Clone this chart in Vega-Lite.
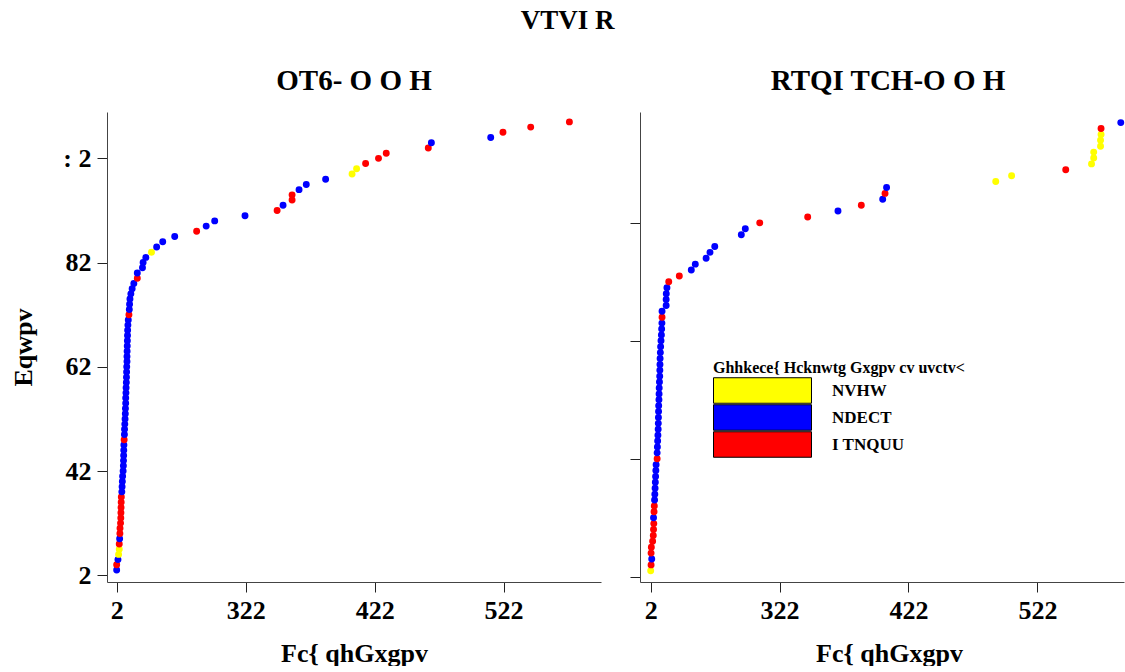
{
  "$schema": "https://vega.github.io/schema/vega-lite/v6.json",
  "background": "white",
  "padding": {"left": 10, "top": 7, "right": 0, "bottom": 0},
  "title": {
    "text": "VTVI R",
    "font": "Liberation Serif",
    "fontSize": 27,
    "fontWeight": "bold",
    "color": "black",
    "anchor": "middle",
    "offset": 32
  },
  "datasets": {
    "left_panel": [
      {"day": 0, "count": 1, "grp": "NDECT"},
      {"day": 0, "count": 2, "grp": "I TNQUU"},
      {"day": 1, "count": 3, "grp": "NDECT"},
      {"day": 1.5, "count": 4, "grp": "NVHW"},
      {"day": 2, "count": 5, "grp": "NVHW"},
      {"day": 2, "count": 6, "grp": "I TNQUU"},
      {"day": 2.3, "count": 7, "grp": "NDECT"},
      {"day": 2.5, "count": 8, "grp": "I TNQUU"},
      {"day": 2.6, "count": 9, "grp": "I TNQUU"},
      {"day": 3, "count": 10, "grp": "I TNQUU"},
      {"day": 3.2, "count": 11, "grp": "I TNQUU"},
      {"day": 3.3, "count": 12, "grp": "I TNQUU"},
      {"day": 3.4, "count": 13, "grp": "I TNQUU"},
      {"day": 3.5, "count": 14, "grp": "I TNQUU"},
      {"day": 3.6, "count": 15, "grp": "I TNQUU"},
      {"day": 4, "count": 16, "grp": "NDECT"},
      {"day": 4.2, "count": 17, "grp": "NDECT"},
      {"day": 4.4, "count": 18, "grp": "NDECT"},
      {"day": 4.6, "count": 19, "grp": "NDECT"},
      {"day": 5, "count": 20, "grp": "NDECT"},
      {"day": 5.2, "count": 21, "grp": "NDECT"},
      {"day": 5.3, "count": 22, "grp": "NDECT"},
      {"day": 5.4, "count": 23, "grp": "NDECT"},
      {"day": 5.5, "count": 24, "grp": "NDECT"},
      {"day": 5.6, "count": 25, "grp": "NDECT"},
      {"day": 5.8, "count": 26, "grp": "I TNQUU"},
      {"day": 6, "count": 27, "grp": "NDECT"},
      {"day": 6.1, "count": 28, "grp": "NDECT"},
      {"day": 6.3, "count": 29, "grp": "NDECT"},
      {"day": 6.5, "count": 30, "grp": "NDECT"},
      {"day": 6.7, "count": 31, "grp": "NDECT"},
      {"day": 6.8, "count": 32, "grp": "NDECT"},
      {"day": 7, "count": 33, "grp": "NDECT"},
      {"day": 7, "count": 34, "grp": "NDECT"},
      {"day": 7.2, "count": 35, "grp": "NDECT"},
      {"day": 7.3, "count": 36, "grp": "NDECT"},
      {"day": 7.5, "count": 37, "grp": "NDECT"},
      {"day": 7.6, "count": 38, "grp": "NDECT"},
      {"day": 7.7, "count": 39, "grp": "NDECT"},
      {"day": 7.8, "count": 40, "grp": "NDECT"},
      {"day": 8, "count": 41, "grp": "NDECT"},
      {"day": 8, "count": 42, "grp": "NDECT"},
      {"day": 8.1, "count": 43, "grp": "NDECT"},
      {"day": 8.2, "count": 44, "grp": "NDECT"},
      {"day": 8.3, "count": 45, "grp": "NDECT"},
      {"day": 8.4, "count": 46, "grp": "NDECT"},
      {"day": 8.5, "count": 47, "grp": "NDECT"},
      {"day": 8.7, "count": 48, "grp": "NDECT"},
      {"day": 9, "count": 49, "grp": "NDECT"},
      {"day": 9.5, "count": 50, "grp": "I TNQUU"},
      {"day": 9.8, "count": 51, "grp": "NDECT"},
      {"day": 10, "count": 52, "grp": "NDECT"},
      {"day": 10.3, "count": 53, "grp": "NDECT"},
      {"day": 11, "count": 54, "grp": "NDECT"},
      {"day": 12, "count": 55, "grp": "NDECT"},
      {"day": 13.3, "count": 56, "grp": "NDECT"},
      {"day": 16, "count": 57, "grp": "I TNQUU"},
      {"day": 16, "count": 58, "grp": "NDECT"},
      {"day": 20, "count": 59, "grp": "NDECT"},
      {"day": 20.5, "count": 60, "grp": "NDECT"},
      {"day": 22.6, "count": 61, "grp": "NDECT"},
      {"day": 27, "count": 62, "grp": "NVHW"},
      {"day": 31, "count": 63, "grp": "NDECT"},
      {"day": 35.7, "count": 64, "grp": "NDECT"},
      {"day": 45, "count": 65, "grp": "NDECT"},
      {"day": 62, "count": 66, "grp": "I TNQUU"},
      {"day": 69.4, "count": 67, "grp": "NDECT"},
      {"day": 76, "count": 68, "grp": "NDECT"},
      {"day": 99.5, "count": 69, "grp": "NDECT"},
      {"day": 124.4, "count": 70, "grp": "I TNQUU"},
      {"day": 129, "count": 71, "grp": "NDECT"},
      {"day": 136, "count": 72, "grp": "I TNQUU"},
      {"day": 136, "count": 73, "grp": "I TNQUU"},
      {"day": 141.4, "count": 74, "grp": "NDECT"},
      {"day": 147, "count": 75, "grp": "NDECT"},
      {"day": 162, "count": 76, "grp": "NDECT"},
      {"day": 182.5, "count": 77, "grp": "NVHW"},
      {"day": 186, "count": 78, "grp": "NVHW"},
      {"day": 193, "count": 79, "grp": "I TNQUU"},
      {"day": 203, "count": 80, "grp": "I TNQUU"},
      {"day": 209, "count": 81, "grp": "I TNQUU"},
      {"day": 241.6, "count": 82, "grp": "I TNQUU"},
      {"day": 244, "count": 83, "grp": "NDECT"},
      {"day": 290, "count": 84, "grp": "NDECT"},
      {"day": 299.5, "count": 85, "grp": "I TNQUU"},
      {"day": 321, "count": 86, "grp": "I TNQUU"},
      {"day": 351, "count": 87, "grp": "I TNQUU"}
    ],
    "right_panel": [
      {"day": 0, "count": 1, "grp": "NVHW"},
      {"day": 0.3, "count": 2, "grp": "I TNQUU"},
      {"day": 0.8, "count": 3, "grp": "NDECT"},
      {"day": 0.3, "count": 4, "grp": "I TNQUU"},
      {"day": 0.5, "count": 5, "grp": "I TNQUU"},
      {"day": 1.5, "count": 6, "grp": "I TNQUU"},
      {"day": 2, "count": 7, "grp": "I TNQUU"},
      {"day": 2.2, "count": 8, "grp": "I TNQUU"},
      {"day": 2.4, "count": 9, "grp": "I TNQUU"},
      {"day": 2.2, "count": 10, "grp": "NDECT"},
      {"day": 2.6, "count": 11, "grp": "I TNQUU"},
      {"day": 2.8, "count": 12, "grp": "I TNQUU"},
      {"day": 3, "count": 13, "grp": "NDECT"},
      {"day": 3.2, "count": 14, "grp": "NDECT"},
      {"day": 3.4, "count": 15, "grp": "NDECT"},
      {"day": 3.6, "count": 16, "grp": "NDECT"},
      {"day": 3.8, "count": 17, "grp": "NDECT"},
      {"day": 4, "count": 18, "grp": "NDECT"},
      {"day": 4.2, "count": 19, "grp": "NDECT"},
      {"day": 5, "count": 20, "grp": "I TNQUU"},
      {"day": 5, "count": 21, "grp": "NDECT"},
      {"day": 5.2, "count": 22, "grp": "NDECT"},
      {"day": 5.4, "count": 23, "grp": "NDECT"},
      {"day": 5.6, "count": 24, "grp": "NDECT"},
      {"day": 5.8, "count": 25, "grp": "NDECT"},
      {"day": 5.9, "count": 26, "grp": "NDECT"},
      {"day": 6, "count": 27, "grp": "NDECT"},
      {"day": 6.1, "count": 28, "grp": "NDECT"},
      {"day": 6.2, "count": 29, "grp": "NDECT"},
      {"day": 6.4, "count": 30, "grp": "NDECT"},
      {"day": 6.5, "count": 31, "grp": "NDECT"},
      {"day": 6.6, "count": 32, "grp": "NDECT"},
      {"day": 6.8, "count": 33, "grp": "NDECT"},
      {"day": 7, "count": 34, "grp": "NDECT"},
      {"day": 7.1, "count": 35, "grp": "NDECT"},
      {"day": 7.2, "count": 36, "grp": "NDECT"},
      {"day": 7.3, "count": 37, "grp": "NDECT"},
      {"day": 7.5, "count": 38, "grp": "NDECT"},
      {"day": 7.7, "count": 39, "grp": "NDECT"},
      {"day": 8, "count": 40, "grp": "NDECT"},
      {"day": 8.3, "count": 41, "grp": "NDECT"},
      {"day": 8.5, "count": 42, "grp": "NDECT"},
      {"day": 8.7, "count": 43, "grp": "NDECT"},
      {"day": 8.8, "count": 44, "grp": "I TNQUU"},
      {"day": 8.8, "count": 45, "grp": "NDECT"},
      {"day": 12, "count": 46, "grp": "NDECT"},
      {"day": 12, "count": 47, "grp": "NDECT"},
      {"day": 12.1, "count": 48, "grp": "NDECT"},
      {"day": 12.6, "count": 49, "grp": "NDECT"},
      {"day": 14, "count": 50, "grp": "I TNQUU"},
      {"day": 22.2, "count": 51, "grp": "I TNQUU"},
      {"day": 31.5, "count": 52, "grp": "NDECT"},
      {"day": 34.6, "count": 53, "grp": "NDECT"},
      {"day": 43, "count": 54, "grp": "NDECT"},
      {"day": 46, "count": 55, "grp": "NDECT"},
      {"day": 49.7, "count": 56, "grp": "NDECT"},
      {"day": 70.3, "count": 58, "grp": "NDECT"},
      {"day": 73.4, "count": 59, "grp": "NDECT"},
      {"day": 84.6, "count": 60, "grp": "I TNQUU"},
      {"day": 121.8, "count": 61, "grp": "I TNQUU"},
      {"day": 145.3, "count": 62, "grp": "NDECT"},
      {"day": 163.4, "count": 63, "grp": "I TNQUU"},
      {"day": 180, "count": 64, "grp": "NDECT"},
      {"day": 181.8, "count": 65, "grp": "I TNQUU"},
      {"day": 183, "count": 66, "grp": "NDECT"},
      {"day": 267.7, "count": 67, "grp": "NVHW"},
      {"day": 280, "count": 68, "grp": "NVHW"},
      {"day": 322, "count": 69, "grp": "I TNQUU"},
      {"day": 342, "count": 70, "grp": "NVHW"},
      {"day": 343.7, "count": 71, "grp": "NVHW"},
      {"day": 343.7, "count": 72, "grp": "NVHW"},
      {"day": 349, "count": 73, "grp": "NVHW"},
      {"day": 349, "count": 74, "grp": "NVHW"},
      {"day": 349.4, "count": 75, "grp": "NVHW"},
      {"day": 349.4, "count": 76, "grp": "I TNQUU"},
      {"day": 364.7, "count": 77, "grp": "NDECT"}
    ]
  },
  "config": {
    "font": "Liberation Serif",
    "view": {"stroke": null},
    "axis": {
      "grid": false,
      "labelFont": "Liberation Serif",
      "labelFontSize": 26,
      "labelFontWeight": "bold",
      "labelColor": "black",
      "titleFont": "Liberation Serif",
      "titleFontSize": 26,
      "titleFontWeight": "bold",
      "titleColor": "black",
      "tickSize": 10,
      "tickColor": "#222222",
      "domainColor": "#444444",
      "labelPadding": 5
    },
    "title": {"font": "Liberation Serif", "fontWeight": "bold", "color": "black"}
  },
  "spacing": 28,
  "resolve": {"scale": {"y": "independent", "x": "independent"}, "legend": {"color": "independent"}},
  "hconcat": [
    {
      "data": {"name": "left_panel"},
      "width": 494,
      "height": 470,
      "title": {"text": "OT6- O O H", "fontSize": 29, "offset": 16},
      "mark": {"type": "point", "filled": true, "size": 48, "opacity": 1, "strokeWidth": 0},
      "encoding": {
        "x": {
          "field": "day", "type": "quantitative",
          "scale": {"domain": [-7.5, 375.5], "nice": false, "zero": false},
          "axis": {
            "values": [0, 100, 200, 300],
            "labelExpr": "datum.value == 0 ? '2' : datum.value == 100 ? '322' : datum.value == 200 ? '422' : '522'",
            "title": "Fc{ qhGxgpv",
            "titlePadding": 17
          }
        },
        "y": {
          "field": "count", "type": "quantitative",
          "scale": {"domain": [-1.3, 88.9], "nice": false, "zero": false},
          "axis": {
            "values": [0, 20, 40, 60, 80],
            "labelExpr": "datum.value == 0 ? '2' : datum.value == 20 ? '42' : datum.value == 40 ? '62' : datum.value == 60 ? '82' : ': 2'",
            "labelPadding": 6,
            "title": "Eqwpv",
            "titlePadding": 26
          }
        },
        "color": {
          "field": "grp", "type": "nominal",
          "scale": {"domain": ["NVHW", "NDECT", "I TNQUU"], "range": ["#FFFF00", "#0000FF", "#FF0000"]},
          "legend": null
        }
      }
    },
    {
      "data": {"name": "right_panel"},
      "width": 484,
      "height": 470,
      "title": {"text": "RTQI TCH-O O H", "fontSize": 29, "offset": 16, "dx": 6},
      "mark": {"type": "point", "filled": true, "size": 48, "opacity": 1, "strokeWidth": 0},
      "encoding": {
        "x": {
          "field": "day", "type": "quantitative",
          "scale": {"domain": [-8.3, 367.2], "nice": false, "zero": false},
          "axis": {
            "values": [0, 100, 200, 300],
            "labelExpr": "datum.value == 0 ? '2' : datum.value == 100 ? '322' : datum.value == 200 ? '422' : '522'",
            "title": "Fc{ qhGxgpv",
            "titlePadding": 17,
            "titleX": 249
          }
        },
        "y": {
          "field": "count", "type": "quantitative",
          "scale": {"domain": [-0.9, 78.8], "nice": false, "zero": false},
          "axis": {"values": [0, 20, 40, 60], "labels": false, "title": null}
        },
        "color": {
          "field": "grp", "type": "nominal",
          "scale": {"domain": ["NVHW", "NDECT", "I TNQUU"], "range": ["#FFFF00", "#0000FF", "#FF0000"]},
          "legend": {
            "orient": "none",
            "legendX": 73,
            "legendY": 248,
            "title": "Ghhkece{ Hcknwtg Gxgpv cv uvctv<",
            "titleFont": "Liberation Serif",
            "titleFontSize": 16,
            "titleFontWeight": "bold",
            "titleColor": "black",
            "titleLimit": 400,
            "titlePadding": 3,
            "symbolType": "M-1,-1.16H7.909V1.16H-1Z",
            "symbolSize": 484,
            "symbolStrokeColor": "black",
            "symbolStrokeWidth": 1,
            "symbolOpacity": 1,
            "labelFont": "Liberation Serif",
            "labelFontSize": 17,
            "labelFontWeight": "bold",
            "labelColor": "black",
            "labelOffset": 96,
            "rowPadding": -8
          }
        }
      }
    }
  ]
}
